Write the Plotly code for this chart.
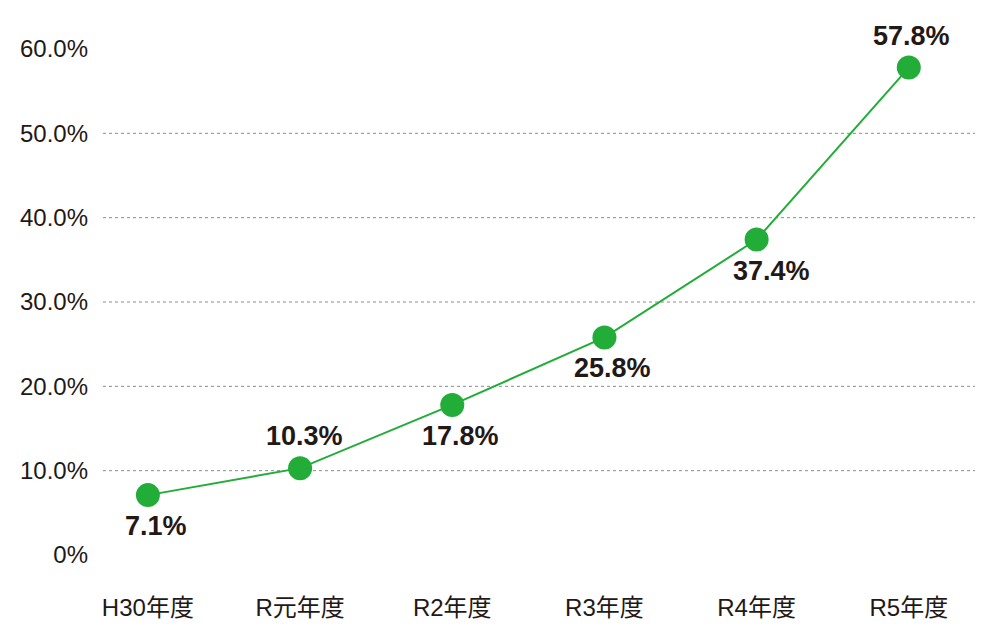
import plotly.graph_objects as go

categories = ["H30年度", "R元年度", "R2年度", "R3年度", "R4年度", "R5年度"]
values = [7.1, 10.3, 17.8, 25.8, 37.4, 57.8]
label_pos = ["below", "above", "below", "below", "below", "above"]
label_dx = [8, 4, 8, 8, 15, 3]
y_tickvals = [0, 10, 20, 30, 40, 50, 60]
y_ticktext = ["0%", "10.0%", "20.0%", "30.0%", "40.0%", "50.0%", "60.0%"]

GREEN = "#22ac38"
DARK = "#231815"
FONT = "Liberation Sans, Noto Sans CJK JP, sans-serif"

fig = go.Figure()
fig.add_trace(go.Scatter(
    x=categories, y=values, mode="lines+markers",
    line=dict(color=GREEN, width=2),
    marker=dict(color=GREEN, size=24),
    cliponaxis=False, hoverinfo="skip",
))

for c, v, p, dx in zip(categories, values, label_pos, label_dx):
    fig.add_annotation(
        x=c, y=v, text=f"{v:.1f}%", showarrow=False,
        yshift=-31 if p == "below" else 32, xshift=dx,
        font=dict(family=FONT, size=27, color=DARK, weight="bold"),
    )

# dotted gridlines for 10..50
for t in y_tickvals[1:-1]:
    fig.add_shape(type="line", xref="paper", yref="y", x0=0, x1=1, y0=t, y1=t,
                  line=dict(color="#8c8c8c", width=1, dash="dot"), layer="below")

fig.update_layout(
    width=986, height=632,
    margin=dict(l=92, r=19, t=41, b=85),
    paper_bgcolor="white", plot_bgcolor="white",
    showlegend=False,
    font=dict(family=FONT, color=DARK),
)
fig.update_xaxes(
    type="category", range=[-0.295, 5.435],
    showgrid=False, zeroline=False, showline=False, ticks="",
    tickfont=dict(size=24, color=DARK), ticklabelstandoff=36,
)
fig.update_yaxes(
    range=[0, 60], tickvals=y_tickvals, ticktext=y_ticktext,
    showgrid=False, zeroline=False, showline=False, ticks="",
    tickfont=dict(size=24, color=DARK), ticklabelstandoff=14,
)

fig.write_html("out.html")
